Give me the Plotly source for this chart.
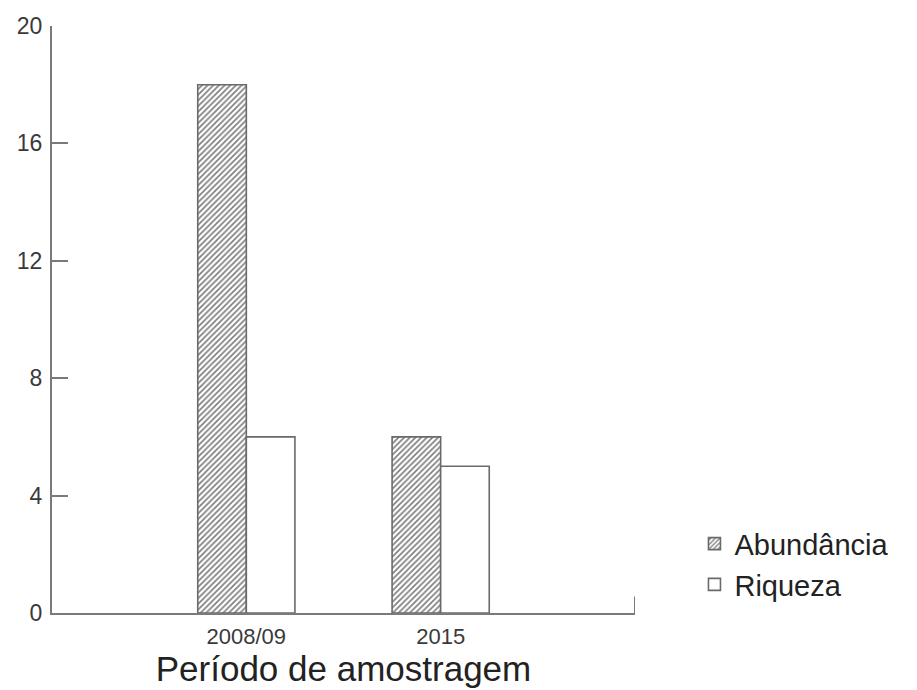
import plotly.graph_objects as go

# Sampling periods and counts per period
periodos = ["2008/09", "2015"]
abundancia = [18, 6]
riqueza = [6, 5]
y_ticks = [0, 4, 8, 12, 16, 20]

axis_grey = "#7a7a7a"
edge_grey = "#6a6a6a"
text_col = "#3a3a3a"
font_family = "Liberation Sans, Arial, sans-serif"

fig = go.Figure()
fig.add_trace(go.Bar(
    x=periodos, y=abundancia, name="Abundância",
    marker=dict(
        color="white",
        line=dict(color=edge_grey, width=1.6),
        pattern=dict(shape="/", fgcolor="#7c7c7c", bgcolor="white",
                     size=4, solidity=0.4),
    ),
))
fig.add_trace(go.Bar(
    x=periodos, y=riqueza, name="Riqueza",
    marker=dict(color="white", line=dict(color=edge_grey, width=1.6)),
))

fig.update_layout(
    template="none",
    width=917, height=690,
    margin=dict(l=52, r=282, t=26, b=77),
    plot_bgcolor="white", paper_bgcolor="white",
    barmode="group", bargap=0.5, bargroupgap=0,
    font=dict(family=font_family, color=text_col),
    showlegend=True,
    legend=dict(
        x=1.102, y=0.083, xanchor="left", yanchor="middle",
        font=dict(size=29, color="#222222", family=font_family),
        bgcolor="rgba(0,0,0,0)", tracegroupgap=0,
    ),
)

fig.update_xaxes(
    type="category", range=[-1, 2], automargin=False,
    showline=True, linecolor=axis_grey, linewidth=2,
    ticks="", showgrid=False, zeroline=False,
    tickfont=dict(size=22, color=text_col), ticklabelstandoff=3,
    title=dict(text="Período de amostragem", font=dict(size=35, color="#222222"),
               standoff=6),
)
fig.update_yaxes(
    range=[0, 20], tickvals=y_ticks, ticktext=[str(v) for v in y_ticks],
    automargin=False,
    showline=True, linecolor=axis_grey, linewidth=2,
    ticks="inside", ticklen=16, tickwidth=1.6, tickcolor=axis_grey,
    showgrid=False, zeroline=False,
    tickfont=dict(size=23, color=text_col), ticklabelstandoff=3,
)

# Short upright tick closing the right end of the x axis
fig.add_shape(type="line", xref="x", yref="paper", x0=2, x1=2, y0=0, y1=0.028,
              line=dict(color=axis_grey, width=2))

fig.write_html("out.html")
